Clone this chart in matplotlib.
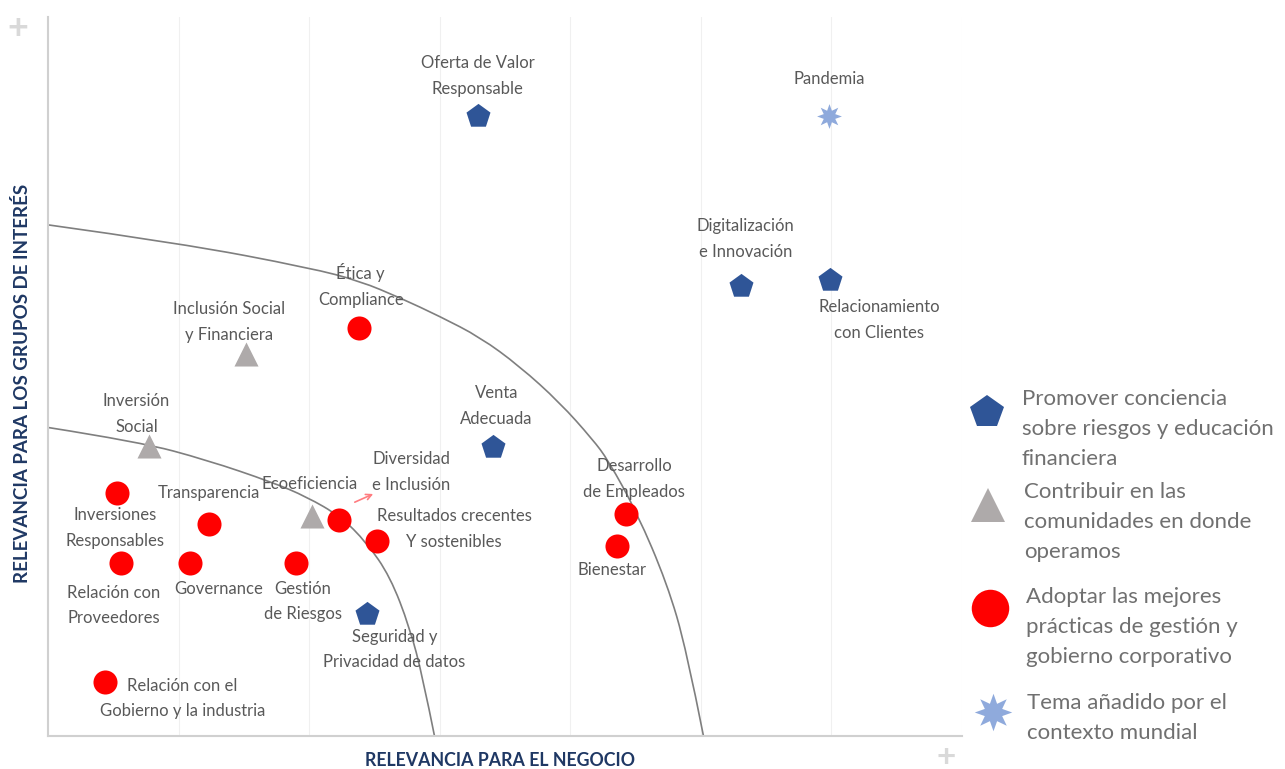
import matplotlib.pyplot as plt
from matplotlib.lines import Line2D
from matplotlib.path import Path
from matplotlib.patches import PathPatch

plt.rcParams['font.family'] = ['Lato', 'DejaVu Sans']

# temas materiales
names = ['Oferta de Valor\nResponsable', 'Pandemia', 'Digitalización\ne Innovación',
         'Relacionamiento\ncon Clientes', 'Ética y\nCompliance', 'Inclusión Social\ny Financiera',
         'Venta\nAdecuada', 'Inversión\nSocial', 'Inversiones\nResponsables', 'Transparencia',
         'Ecoeficiencia', 'Diversidad\ne Inclusión', 'Resultados crecentes\nY sostenibles',
         'Desarrollo\nde Empleados', 'Bienestar', 'Relación con\nProveedores', 'Governance',
         'Gestión\nde Riesgos', 'Seguridad y\nPrivacidad de datos',
         'Relación con el\nGobierno y la industria']
negocio = [3.29, 5.98, 5.31, 5.99, 2.38, 1.52, 3.41, 0.77, 0.53, 1.23,
           2.02, 2.23, 2.52, 4.43, 4.36, 0.56, 1.09, 1.90, 2.44, 0.44]
grupos = [4.74, 4.74, 3.44, 3.49, 3.12, 2.92, 2.21, 2.22, 1.86, 1.62,
          1.68, 1.65, 1.49, 1.70, 1.45, 1.32, 1.32, 1.32, 0.93, 0.41]
pilar = ['educ', 'mundo', 'educ', 'educ', 'gob', 'com', 'educ', 'com', 'gob', 'gob',
         'com', 'gob', 'gob', 'gob', 'gob', 'gob', 'gob', 'gob', 'educ', 'gob']

# curvas de umbral
outer_x = [0, 1.01, 2.01, 2.39, 2.70, 3.00, 3.31, 3.61, 3.92, 4.17, 4.29, 4.51, 4.74, 4.89, 5.02]
outer_y = [3.91, 3.77, 3.58, 3.48, 3.35, 3.21, 3.05, 2.83, 2.55, 2.27, 2.11, 1.71, 1.17, 0.66, 0]
inner_x = [0, 0.70, 1.22, 1.72, 1.98, 2.24, 2.44, 2.62, 2.77, 2.87, 2.96]
inner_y = [2.36, 2.25, 2.11, 1.94, 1.83, 1.68, 1.48, 1.22, 0.83, 0.45, 0]

legend_text = {
    'educ': 'Promover conciencia\nsobre riesgos y educación\nfinanciera',
    'com': 'Contribuir en las\ncomunidades en donde\noperamos',
    'gob': 'Adoptar las mejores\nprácticas de gestión y\ngobierno corporativo',
    'mundo': 'Tema añadido por el\ncontexto mundial',
}

style = {
    'educ': dict(marker='p', color='#2f5597', s=330),
    'com': dict(marker='^', color='#aeaaaa', s=300),
    'gob': dict(marker='o', color='#ff0000', s=300),
    'mundo': dict(marker=(8, 1, 0), color='#8faadc', s=320),
}

# desplazamiento de etiquetas en pixeles
offsets = [(0, 40), (0, 37), (4, 47), (49, -40), (2, 43), (-17, 32), (3, 41), (-12, 32),
           (-2, -35), (0, 31), (-2, 32), (72, 48), (77, 12), (8, 35), (-5, -24), (-7, -42),
           (28, -26), (7, -38), (28, -35), (77, -16)]


def smooth_path(xs, ys):
    # bezier cuadratico usando los puntos leidos como control
    pts = list(zip(xs, ys))
    verts = [pts[0]]
    codes = [Path.MOVETO]
    for i in range(1, len(pts) - 1):
        if i < len(pts) - 2:
            end = ((pts[i][0] + pts[i + 1][0]) / 2, (pts[i][1] + pts[i + 1][1]) / 2)
        else:
            end = pts[-1]
        verts += [pts[i], end]
        codes += [Path.CURVE3, Path.CURVE3]
    return Path(verts, codes)


W, H = 1285, 769
fig = plt.figure(figsize=(W / 100, H / 100), dpi=100)
ax = fig.add_axes([48 / W, 1 - 736 / H, 914 / W, 719 / H])
ax.set_xlim(0, 7)
ax.set_ylim(0, 5.5)

for xv in range(1, 8):
    ax.axvline(xv, color='#f0f0f0', lw=0.8, zorder=0)

for cx, cy in [(outer_x, outer_y), (inner_x, inner_y)]:
    ax.add_patch(PathPatch(smooth_path(cx, cy), facecolor='none', edgecolor='#7f7f7f',
                           lw=1.2, zorder=1))

for g, st in style.items():
    xs = [negocio[i] for i in range(len(names)) if pilar[i] == g]
    ys = [grupos[i] for i in range(len(names)) if pilar[i] == g]
    ax.scatter(xs, ys, marker=st['marker'], color=st['color'], s=st['s'],
               linewidths=0, zorder=3)

for i, n in enumerate(names):
    ax.annotate(n, (negocio[i], grupos[i]), xytext=offsets[i], textcoords='offset pixels',
                ha='center', va='center', fontsize=12, color='#595959',
                linespacing=1.75, zorder=4)

ax.annotate('', xy=(2.51, 1.86), xytext=(2.33, 1.78),
            arrowprops=dict(arrowstyle='->', color='#ff7c80', lw=1.2))

for sp in ['top', 'right']:
    ax.spines[sp].set_visible(False)
for sp in ['left', 'bottom']:
    ax.spines[sp].set_color('#d0d0d0')
    ax.spines[sp].set_linewidth(1.5)
ax.set_xticks([])
ax.set_yticks([])

fig.text(500 / W, 1 - 761 / H, 'RELEVANCIA PARA EL NEGOCIO', ha='center', va='center',
         fontsize=12.8, fontweight='bold', color='#1f3864')
fig.text(22 / W, 1 - 383 / H, 'RELEVANCIA PARA LOS GRUPOS DE INTERÉS', ha='center',
         va='center', rotation=90, fontsize=13.5, fontweight='bold', color='#1f3864')
fig.text(18 / W, 1 - 28 / H, '+', ha='center', va='center', fontsize=26,
         fontweight='bold', color='#d9d9d9')
fig.text(946 / W, 1 - 757 / H, '+', ha='center', va='center', fontsize=24,
         fontweight='bold', color='#d9d9d9')

# leyenda
leg_marker_pos = {'educ': (987, 412), 'com': (988, 505), 'gob': (990, 608), 'mundo': (993, 712)}
leg_text_pos = {'educ': (1022, 403), 'com': (1024, 496), 'gob': (1026, 601), 'mundo': (1027, 707)}
leg_size = {'educ': 25, 'com': 24, 'gob': 27, 'mundo': 27}
for g in style:
    mx, my = leg_marker_pos[g]
    fig.add_artist(Line2D([mx / W], [1 - my / H], marker=style[g]['marker'],
                          color=style[g]['color'], markersize=leg_size[g],
                          markeredgewidth=0, linestyle='none', transform=fig.transFigure))
    tx, ty = leg_text_pos[g]
    fig.text(tx / W, 1 - (ty - 14) / H, legend_text[g], ha='left', va='top',
             fontsize=16, color='#707070', linespacing=1.62)

fig.savefig('out.png', dpi=100)
